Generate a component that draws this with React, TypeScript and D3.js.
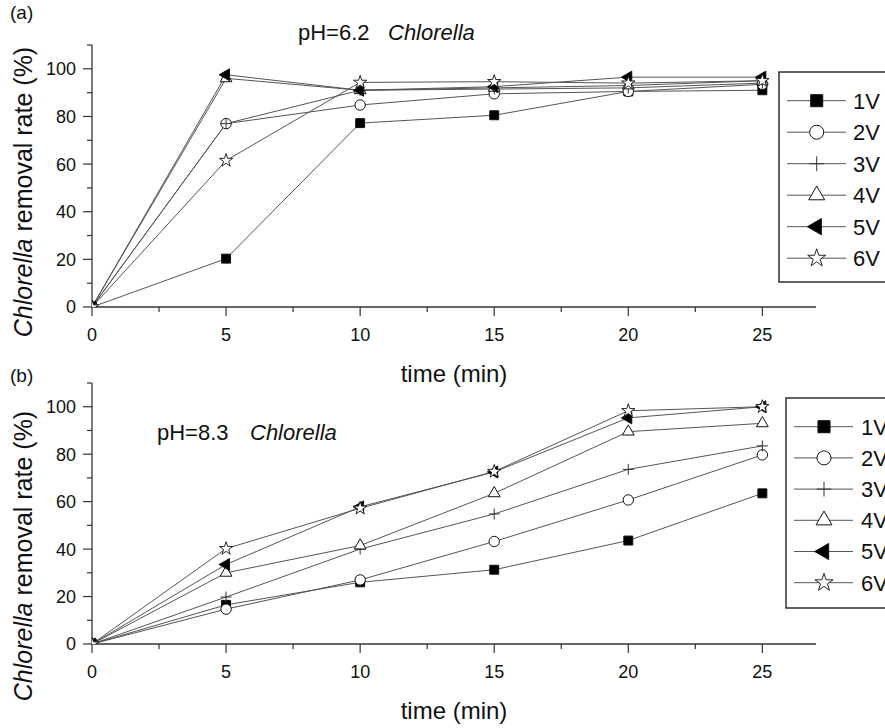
import React from 'react';
import * as d3 from 'd3';

// ---------- data ----------
const times = [0, 5, 10, 15, 20, 25];
const seriesNames = ['1V', '2V', '3V', '4V', '5V', '6V'];
const xTicksMajor = [0, 5, 10, 15, 20, 25];
const yTicksMajor = [0, 20, 40, 60, 80, 100];

// panel (a) pH=6.2
const a1V = [0, 20.3, 77.2, 80.5, 90.5, 91];
const a2V = [0, 77, 84.8, 89.5, 90.5, 93.5];
const a3V = [0, 77, 91, 91.5, 92, 94];
const a4V = [0, 96, 91, 92, 93, 95];
const a5V = [0, 97.5, 91, 92.5, 96.5, 96.5];
const a6V = [0, 61.5, 94.3, 94.6, 94, 95];

// panel (b) pH=8.3
const b1V = [0, 16.5, 26, 31.3, 43.6, 63.5];
const b2V = [0, 14.7, 27, 43.2, 60.7, 79.7];
const b3V = [0, 19.8, 40, 54.8, 73.6, 83.5];
const b4V = [0, 30, 41.5, 63.5, 89.5, 93];
const b5V = [0, 33.5, 57.8, 72.5, 95.3, 100];
const b6V = [0, 40.2, 57.2, 72.7, 98.3, 100];

const FONT = '"Liberation Sans", Arial, Helvetica, sans-serif';

type MarkerKind = 'square' | 'circle' | 'plus' | 'triangle' | 'left' | 'star';
const markerKinds: MarkerKind[] = ['square', 'circle', 'plus', 'triangle', 'left', 'star'];

function Marker({ kind, x, y, s = 1 }: { kind: MarkerKind; x: number; y: number; s?: number }) {
  const stroke = '#111';
  if (kind === 'plus') {
    const h = 5.5 * s;
    return (
      <path d={`M${x - h},${y}H${x + h}M${x},${y - h}V${y + h}`} stroke="#333" strokeWidth={1} fill="none" />
    );
  }
  let sym: d3.SymbolType = d3.symbolSquare;
  let size = 81;
  let fill = '#000';
  let rot = 0;
  let sw = 1;
  if (kind === 'square') { sym = d3.symbolSquare; size = 80 * s * s; fill = '#000'; }
  if (kind === 'circle') { sym = d3.symbolCircle; size = 85 * s * s; fill = '#fff'; }
  if (kind === 'triangle') { sym = d3.symbolTriangle; size = 60 * s * s; fill = '#fff'; }
  if (kind === 'left') { sym = d3.symbolTriangle; size = 62 * s * s; fill = '#000'; rot = -90; }
  if (kind === 'star') { sym = d3.symbolStar; size = 55 * s * s; fill = '#fff'; sw = 0.9; }
  const d = d3.symbol(sym, size)() || '';
  return (
    <path d={d} transform={`translate(${x},${y}) rotate(${rot})`} fill={fill} stroke={stroke} strokeWidth={sw} />
  );
}

interface PanelCfg {
  id: string;
  tag: string;
  ph: string;
  series: number[][];
  x0: number; x1: number; yTop: number; yBot: number;
  tagPos: [number, number];
  phPos: [number, number];
  chlPos: [number, number];
  xTitleY: number;
  yTitleCy: number;
  legend: { x: number; y: number; w: number; h: number; row0: number; step: number; lx0: number; lx1: number; mx: number; tx: number };
}

function Panel({ cfg }: { cfg: PanelCfg }) {
  const x = d3.scaleLinear().domain([0, 27]).range([cfg.x0, cfg.x1]);
  const y = d3.scaleLinear().domain([0, 110]).range([cfg.yBot, cfg.yTop]);
  const line = d3.line<number>().x((_, i) => x(times[i])).y((v) => y(v));
  const xMinor = d3.range(2.5, 27, 5);
  const yMinor = d3.range(10, 111, 20);
  const axisColor = '#333';
  const L = cfg.legend;
  const clipId = `clip-${cfg.id}`;
  return (
    <g fontFamily={FONT}>
      <defs>
        <clipPath id={clipId}>
          <rect x={cfg.x0} y={cfg.yTop - 20} width={cfg.x1 - cfg.x0 + 20} height={cfg.yBot - cfg.yTop + 20} />
        </clipPath>
      </defs>
      {/* axes */}
      <line x1={cfg.x0} x2={cfg.x1} y1={cfg.yBot} y2={cfg.yBot} stroke={axisColor} strokeWidth={1.3} />
      <line x1={cfg.x0} x2={cfg.x0} y1={cfg.yBot} y2={cfg.yTop} stroke={axisColor} strokeWidth={1.3} />
      {xTicksMajor.map((t) => (
        <g key={'xm' + t}>
          <line x1={x(t)} x2={x(t)} y1={cfg.yBot} y2={cfg.yBot + 9} stroke={axisColor} strokeWidth={1.2} />
          <text x={x(t)} y={cfg.yBot + 34} fontSize={18} textAnchor="middle" fill="#111">{t}</text>
        </g>
      ))}
      {xMinor.map((t) => (
        <line key={'xn' + t} x1={x(t)} x2={x(t)} y1={cfg.yBot} y2={cfg.yBot + 5} stroke={axisColor} strokeWidth={1.2} />
      ))}
      {yTicksMajor.map((t) => (
        <g key={'ym' + t}>
          <line x1={cfg.x0 - 9} x2={cfg.x0} y1={y(t)} y2={y(t)} stroke={axisColor} strokeWidth={1.2} />
          <text x={cfg.x0 - 16} y={y(t)} dy="0.36em" fontSize={18} textAnchor="end" fill="#111">{t}</text>
        </g>
      ))}
      {yMinor.map((t) => (
        <line key={'yn' + t} x1={cfg.x0 - 5} x2={cfg.x0} y1={y(t)} y2={y(t)} stroke={axisColor} strokeWidth={1.2} />
      ))}
      {/* titles */}
      <text x={(cfg.x0 + cfg.x1) / 2} y={cfg.xTitleY} fontSize={24} textAnchor="middle" fill="#111">time (min)</text>
      <text transform={`translate(32,${cfg.yTitleCy}) rotate(-90)`} fontSize={25} textAnchor="middle" fill="#111">
        <tspan fontStyle="italic">Chlorella</tspan> removal rate (%)
      </text>
      <text x={cfg.tagPos[0]} y={cfg.tagPos[1]} fontSize={19} fill="#111">{cfg.tag}</text>
      <text x={cfg.phPos[0]} y={cfg.phPos[1]} fontSize={22} fill="#111">{cfg.ph}</text>
      <text x={cfg.chlPos[0]} y={cfg.chlPos[1]} fontSize={22} fontStyle="italic" fill="#111">Chlorella</text>
      {/* series lines */}
      {cfg.series.map((s, i) => (
        <path key={'l' + i} d={line(s) || ''} fill="none" stroke="#555" strokeWidth={1} />
      ))}
      {/* markers */}
      <g clipPath={`url(#${clipId})`}>
        {cfg.series.map((s, i) => (
          <g key={'m' + i}>
            {s.map((v, j) => (
              <Marker key={j} kind={markerKinds[i]} x={x(times[j])} y={y(v)} />
            ))}
          </g>
        ))}
      </g>
      {/* legend */}
      <rect x={L.x} y={L.y} width={L.w} height={L.h} fill="#fff" stroke="#222" strokeWidth={1.4} />
      {seriesNames.map((n, i) => {
        const ry = L.row0 + i * L.step;
        return (
          <g key={'lg' + n}>
            <line x1={L.lx0} x2={L.lx1} y1={ry} y2={ry} stroke="#555" strokeWidth={1} />
            <Marker kind={markerKinds[i]} x={L.mx} y={ry} s={1.35} />
            <text x={L.tx} y={ry} dy="0.36em" fontSize={22} fill="#111">{n}</text>
          </g>
        );
      })}
    </g>
  );
}

const panelA: PanelCfg = {
  id: 'a', tag: '(a)', ph: 'pH=6.2', series: [a1V, a2V, a3V, a4V, a5V, a6V],
  x0: 92, x1: 816, yTop: 45, yBot: 307,
  tagPos: [10, 19], phPos: [298, 40], chlPos: [388, 40],
  xTitleY: 382, yTitleCy: 192,
  legend: { x: 779, y: 72, w: 130, h: 210, row0: 100.7, step: 31.5, lx0: 787, lx1: 846, mx: 816.7, tx: 853 },
};

const panelB: PanelCfg = {
  id: 'b', tag: '(b)', ph: 'pH=8.3', series: [b1V, b2V, b3V, b4V, b5V, b6V],
  x0: 92, x1: 816, yTop: 383, yBot: 644,
  tagPos: [10, 382], phPos: [157, 440], chlPos: [250, 440],
  xTitleY: 719, yTitleCy: 556,
  legend: { x: 786, y: 398, w: 130, h: 210, row0: 426.7, step: 31.2, lx0: 794, lx1: 853, mx: 824, tx: 861 },
};

export default function App() {
  return (
    <svg width={885} height={728} style={{ position: 'absolute', left: 0, top: 0, background: '#fff' }}>
      <rect width={885} height={728} fill="#fff" />
      <Panel cfg={panelA} />
      <Panel cfg={panelB} />
    </svg>
  );
}
